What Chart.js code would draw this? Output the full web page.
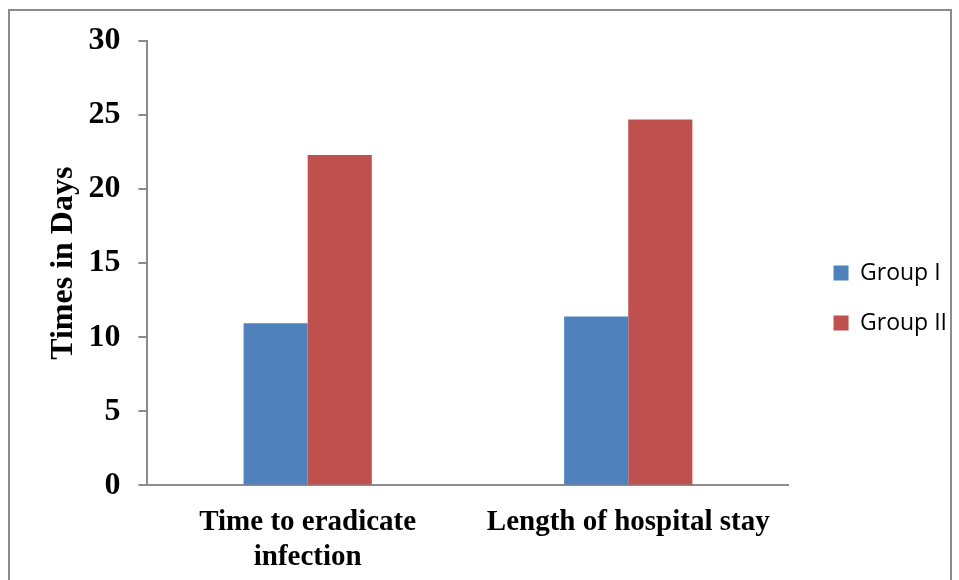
<!DOCTYPE html>
<html>
<head>
<meta charset="utf-8">
<title>Times in Days</title>
<script src="https://cdn.jsdelivr.net/npm/chart.js@4/dist/chart.umd.min.js"></script>
<style>
  body { margin: 0; background: #fff; }
  #wrap { position: relative; width: 959px; height: 580px; }
  #frame { position: absolute; left: 8px; top: 9px; width: 944px; height: 580px; border: 2px solid #8c8c8c; box-sizing: border-box; pointer-events: none; }
</style>
</head>
<body>
<div id="wrap">
  <canvas id="chart" width="959" height="580"></canvas>
  <div id="frame"></div>
</div>
<script>
'use strict';

var categories = [['Time to eradicate', 'infection'], 'Length of hospital stay'];
var groupOne = [10.95, 11.4];
var groupTwo = [22.3, 24.7];
var yTicks = [0, 5, 10, 15, 20, 25, 30];

// nudge the legend a bit, like in the original
var legendShift = {
  id: 'legendShift',
  afterLayout: function (chart) {
    var lg = chart.legend;
    if (lg) {
      lg.left += 18;
      lg.right += 18;
      lg.top -= 16;
      lg.bottom -= 16;
    }
  }
};

var ctx = document.getElementById('chart').getContext('2d');
var chart = new Chart(ctx, {
  type: 'bar',
  data: {
    labels: categories,
    datasets: [{
      label: 'Group I',
      backgroundColor: '#4F81BD',
      data: groupOne
    }, {
      label: 'Group II',
      backgroundColor: '#C0504D',
      data: groupTwo
    }]
  },
  plugins: [legendShift],
  options: {
    responsive: false,
    animation: false,
    layout: { padding: { left: 45, top: 41, right: 20, bottom: -7 } },
    datasets: { bar: { barPercentage: 1, categoryPercentage: 0.4 } },
    plugins: {
      tooltip: { enabled: false },
      legend: {
        position: 'right',
        labels: {
          boxWidth: 15,
          boxHeight: 15,
          padding: 27,
          color: '#000',
          font: { family: 'Open Sans', size: 23 }
        }
      }
    },
    scales: {
      x: {
        grid: { display: false },
        border: { color: '#8c8c8c', width: 2 },
        ticks: {
          color: '#000',
          padding: 12,
          maxRotation: 0,
          font: { family: 'Liberation Serif', size: 29, weight: 'bold', lineHeight: 1.2 }
        }
      },
      y: {
        min: 0,
        max: 30,
        afterBuildTicks: function (axis) {
          axis.ticks = yTicks.map(function (v) { return { value: v }; });
        },
        grid: { drawOnChartArea: false, drawTicks: true, tickLength: 9, color: '#8c8c8c', lineWidth: 2 },
        border: { color: '#8c8c8c', width: 2 },
        ticks: {
          color: '#000',
          padding: 18,
          font: { family: 'Liberation Serif', size: 32, weight: 'bold' }
        },
        title: {
          display: true,
          text: 'Times in Days',
          color: '#000',
          padding: { top: 0, bottom: -13 },
          font: { family: 'Liberation Serif', size: 32, weight: 'bold' }
        }
      }
    }
  }
});
</script>
</body>
</html>
